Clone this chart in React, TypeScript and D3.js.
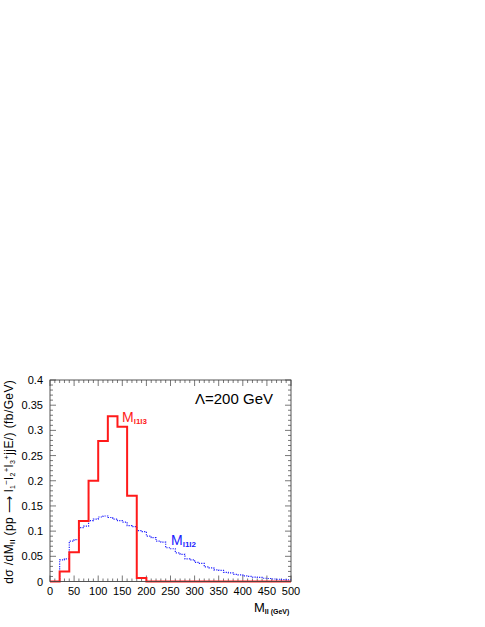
import React from "react";
import * as d3 from "d3";

const xTicks = [0, 50, 100, 150, 200, 250, 300, 350, 400, 450, 500];
const yTicks = [0, 0.05, 0.1, 0.15, 0.2, 0.25, 0.3, 0.35, 0.4];
const yTickLabels = ["0", "0.05", "0.1", "0.15", "0.2", "0.25", "0.3", "0.35", "0.4"];

// M_l1l3 (red), 20 GeV bins, lower edges
const redEdges = [0, 20, 40, 60, 80, 100, 120, 140, 160, 180, 200, 220, 240, 260, 280, 300, 320, 340, 360, 380, 400, 420, 440, 460, 480];
const redValues = [0, 0.02, 0.058, 0.12, 0.2, 0.279, 0.328, 0.307, 0.17, 0.007, 0, 0, 0, 0, 0, 0, 0, 0, 0, 0, 0, 0, 0, 0, 0];

// M_l1l2 (blue), 10 GeV bins, lower edges
const blueEdges = [0, 10, 20, 30, 40, 50, 60, 70, 80, 90, 100, 110, 120, 130, 140, 150, 160, 170, 180, 190, 200, 210, 220, 230, 240, 250, 260, 270, 280, 290, 300, 310, 320, 330, 340, 350, 360, 370, 380, 390, 400, 410, 420, 430, 440, 450, 460, 470, 480, 490];
const blueValues = [0, 0, 0.043, 0.045, 0.08, 0.083, 0.107, 0.11, 0.121, 0.124, 0.128, 0.13, 0.127, 0.124, 0.121, 0.118, 0.111, 0.109, 0.101, 0.099, 0.09, 0.087, 0.08, 0.078, 0.067, 0.065, 0.057, 0.054, 0.045, 0.043, 0.038, 0.036, 0.029, 0.027, 0.023, 0.022, 0.018, 0.017, 0.014, 0.013, 0.011, 0.01, 0.0085, 0.008, 0.0065, 0.006, 0.005, 0.0045, 0.0037, 0.0033];

const X0 = 50, X1 = 291, Y0 = 581.5, Y1 = 380;
const FONT = "'Liberation Sans', Arial, Helvetica, sans-serif";

function stepPath(edges: number[], values: number[], width: number, x: d3.ScaleLinear<number, number>, y: d3.ScaleLinear<number, number>) {
  const pts: [number, number][] = [];
  edges.forEach((e, i) => {
    pts.push([x(e), y(values[i])]);
  });
  pts.push([x(edges[edges.length - 1] + width), y(values[values.length - 1])]);
  const line = d3.line<[number, number]>().curve(d3.curveStepAfter);
  return line(pts) || "";
}

export default function App() {
  const x = d3.scaleLinear().domain([0, 500]).range([X0, X1]);
  const y = d3.scaleLinear().domain([0, 0.4]).range([Y0, Y1]);
  const xMinor = d3.range(0, 501, 10);
  const yMinor = d3.range(0, 0.4001, 0.01);

  const redPath = stepPath(redEdges, redValues, 20, x, y);
  const bluePath = stepPath(blueEdges, blueValues, 10, x, y);

  return (
    <svg width={485} height={627} style={{ position: "absolute", left: 0, top: 0 }}>
      <rect x={0} y={0} width={485} height={627} fill="#fff" />
      {/* ticks */}
      {xMinor.map((v) => {
        const major = v % 50 === 0;
        const len = major ? 6 : 3;
        return (
          <g key={"xt" + v} stroke="#555" strokeWidth={0.8}>
            <line x1={x(v)} x2={x(v)} y1={Y0} y2={Y0 - len} />
            <line x1={x(v)} x2={x(v)} y1={Y1} y2={Y1 + len} />
          </g>
        );
      })}
      {yMinor.map((v, i) => {
        const major = i % 5 === 0;
        const len = major ? 6 : 3;
        return (
          <g key={"yt" + i} stroke="#555" strokeWidth={0.8}>
            <line x1={X0} x2={X0 + len} y1={y(v)} y2={y(v)} />
            <line x1={X1} x2={X1 - len} y1={y(v)} y2={y(v)} />
          </g>
        );
      })}
      {/* histograms */}
      <path d={bluePath} fill="none" stroke="#2020ff" strokeWidth={1.2} strokeDasharray="1.2,1.2" />
      <path d={redPath} fill="none" stroke="#ff1a1a" strokeWidth={2} />
      {/* frame */}
      <rect x={X0} y={Y1} width={X1 - X0} height={Y0 - Y1} fill="none" stroke="#444" strokeWidth={0.9} />
      {/* tick labels */}
      {xTicks.map((v) => (
        <text key={"xl" + v} x={x(v)} y={595} textAnchor="middle" fontFamily={FONT} fontSize={11} fill="#000">
          {v}
        </text>
      ))}
      {yTicks.map((v, i) => (
        <text key={"yl" + i} x={43} y={y(v) + 4} textAnchor="end" fontFamily={FONT} fontSize={11} fill="#000">
          {yTickLabels[i]}
        </text>
      ))}
      {/* y title */}
      <text transform={`translate(13,${(Y0 + Y1) / 2 + 1}) rotate(-90)`} textAnchor="middle" fontFamily={FONT} fontSize={12} letterSpacing={0.4} fill="#000">
        <tspan>dσ /dM</tspan>
        <tspan fontSize={7} dy={2} fontWeight="bold">ll</tspan>
        <tspan dy={-2}> (pp </tspan>
        <tspan>⟶</tspan>
        <tspan> l</tspan>
        <tspan fontSize={7} dy={2}>1</tspan>
        <tspan fontSize={8} dy={-6}>−</tspan>
        <tspan dy={4}>l</tspan>
        <tspan fontSize={7} dy={2}>2</tspan>
        <tspan fontSize={8} dy={-6}>+</tspan>
        <tspan dy={4}>l</tspan>
        <tspan fontSize={7} dy={2}>3</tspan>
        <tspan fontSize={8} dy={-6}>+</tspan>
        <tspan dy={4}>jjE/</tspan>
        <tspan>) (fb/GeV)</tspan>
      </text>
      {/* x title */}
      <text x={254} y={612} fontFamily={FONT} fontSize={13} fill="#000">
        <tspan>M</tspan>
        <tspan fontSize={7} dy={2} fontWeight="bold">ll (GeV)</tspan>
      </text>
      {/* annotation */}
      <text x={195} y={404} fontFamily={FONT} fontSize={15} fill="#000">Λ=200 GeV</text>
      <text x={122} y={422} fontFamily={FONT} fontSize={14} fill="#ff1a1a">
        <tspan>M</tspan>
        <tspan fontSize={8} dy={2} fontWeight="bold">l1l3</tspan>
      </text>
      <text x={171} y={545} fontFamily={FONT} fontSize={14} fill="#2020ff">
        <tspan>M</tspan>
        <tspan fontSize={8} dy={2} fontWeight="bold">l1l2</tspan>
      </text>
    </svg>
  );
}
